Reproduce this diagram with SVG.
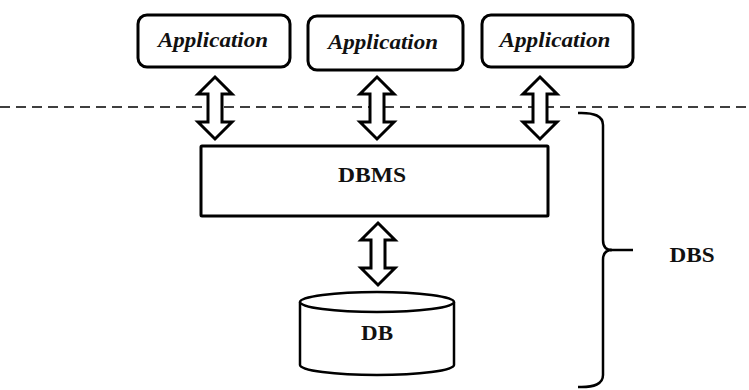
<svg xmlns="http://www.w3.org/2000/svg" width="749" height="390" viewBox="0 0 749 390">
  <style>
    .box { fill: #fff; stroke: #000; stroke-width: 3; }
    .lbl { font-family: "Liberation Serif", "Times New Roman", serif; font-weight: bold; fill: #111; text-anchor: middle; }
    .app { font-style: italic; font-size: 20px; }
    .big { font-size: 20px; }
    .arrow { fill: #fff; stroke: #000; stroke-width: 3; stroke-linejoin: miter; }
  </style>
  <defs>
    <path id="dblArrow" class="arrow" d="M0,0 L17,17 L7,17 L7,45 L17,45 L0,62 L-17,45 L-7,45 L-7,17 L-17,17 Z"/>
  </defs>
  <rect width="749" height="390" fill="#fff"/>

  <g id="divider">
    <line x1="0" y1="107" x2="749" y2="107" stroke="#000" stroke-width="1.5" stroke-dasharray="10 6"/>
  </g>

  <g id="app1">
    <rect class="box" x="138" y="15" width="152" height="52" rx="9"/>
    <text class="lbl app" x="213" y="47" textLength="110" lengthAdjust="spacingAndGlyphs">Application</text>
  </g>
  <g id="app2">
    <rect class="box" x="308" y="16" width="155" height="54" rx="9"/>
    <text class="lbl app" x="383" y="49" textLength="110" lengthAdjust="spacingAndGlyphs">Application</text>
  </g>
  <g id="app3">
    <rect class="box" x="482" y="15" width="151" height="52" rx="9"/>
    <text class="lbl app" x="555" y="47" textLength="111" lengthAdjust="spacingAndGlyphs">Application</text>
  </g>

  <g id="dbms">
    <rect class="box" x="201" y="146" width="347" height="70" rx="1"/>
    <text class="lbl big" x="372" y="182" textLength="68" lengthAdjust="spacingAndGlyphs">DBMS</text>
  </g>

  <g id="db">
    <path d="M300,302 L300,365 A77,10 0 0 0 454,365 L454,302" fill="#fff" stroke="#000" stroke-width="2.5"/>
    <ellipse cx="377" cy="302" rx="77" ry="10" fill="#fff" stroke="#000" stroke-width="2.5"/>
    <text class="lbl big" x="377" y="340" textLength="32" lengthAdjust="spacingAndGlyphs">DB</text>
  </g>

  <g id="dbs">
    <path d="M578,113 Q603,112 603,125 L603,240 Q603,250 612,250 Q603,250 603,260 L603,375 Q603,388 578,387" fill="none" stroke="#000" stroke-width="2.5"/>
    <line x1="610" y1="250" x2="633" y2="250" stroke="#000" stroke-width="2.5"/>
    <text class="lbl big" x="692" y="262" textLength="45" lengthAdjust="spacingAndGlyphs">DBS</text>
  </g>

  <g id="connectors">
    <use href="#dblArrow" x="215" y="77"/>
    <use href="#dblArrow" x="377" y="77"/>
    <use href="#dblArrow" x="540" y="77"/>
    <use href="#dblArrow" x="378" y="223"/>
  </g>
</svg>
